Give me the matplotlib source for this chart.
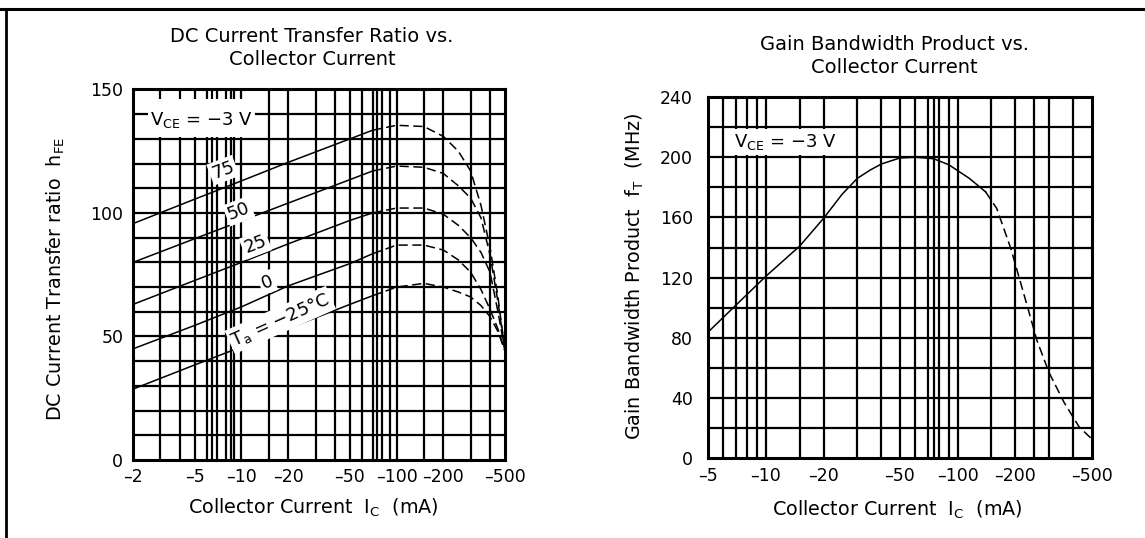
import matplotlib
matplotlib.use('Agg')
import matplotlib.pyplot as plt
from matplotlib.lines import Line2D
from matplotlib.patches import Rectangle
from matplotlib.ticker import NullLocator

# --- DC current transfer ratio (hFE) vs collector current, VCE = -3 V ---
ic_hfe = [2, 5, 10, 20, 50, 70, 100, 150, 200, 250, 300, 350, 400, 450, 500]
hfe_75 = [95.7, 105.6, 113, 120.5, 130, 133.5, 135.5, 135, 131, 125, 117, 103, 86, 66, 44]
hfe_50 = [80, 89.6, 96.8, 104, 113.5, 117, 119, 118.5, 116, 111, 106, 98, 83, 64, 44]
hfe_25 = [63, 72.7, 80, 87.5, 97, 100, 102, 102, 99.5, 95, 90, 84, 76, 60, 44]
hfe_0 = [45, 54.5, 62, 70.5, 79.5, 83.5, 87, 87, 85, 81, 76, 69, 61, 53, 44]
hfe_m25 = [28.7, 38.5, 45.8, 53.2, 63, 66.5, 70, 71.5, 70, 68, 66, 62.5, 58, 52, 44]
hfe_curves = [hfe_75, hfe_50, hfe_25, hfe_0, hfe_m25]
hfe_names = ['75', '50', '25', '0', r'T$_{\rm a}$ = −25°C']
hfe_solid_end = 70  # solid up to here, dashed beyond

# --- gain bandwidth product vs collector current ---
ic_ft = [5, 7, 10, 15, 20, 25, 30, 35, 40, 50, 60, 75, 90, 115, 140, 160, 190, 230, 260, 300,
         360, 430, 500]
ft = [84, 102, 121, 141, 159.5, 175.5, 186, 191.5, 195.5, 199.5, 200, 199, 195, 186, 177, 166,
      139, 102, 78, 57, 37, 21, 13]
ft_solid_end = 140

# axis ticks / labels
hfe_xticks = [2, 5, 10, 20, 50, 100, 200, 500]
ft_xticks = [5, 10, 20, 50, 100, 200, 500]
hfe_yticks = [0, 50, 100, 150]
ft_yticks = [0, 40, 80, 120, 160, 200, 240]

# chart grid as printed on the datasheet
hfe_gridx = [3, 4, 5, 6, 6.5, 7, 8, 8.5, 9, 10, 15, 20, 30, 40, 50, 60, 70, 75, 80, 90, 100,
             150, 200, 300, 400]
ft_gridx = [6, 7, 8, 9, 10, 15, 20, 30, 40, 50, 60, 70, 75, 80, 90, 100, 150, 200, 250, 300, 400]
hfe_gridy = list(range(10, 150, 10))
ft_gridy = list(range(20, 240, 20))

plt.rcParams['font.family'] = 'DejaVu Sans'

fig = plt.figure(figsize=(11.45, 5.38), dpi=100)
ax1 = fig.add_axes([0.1162, 0.1450, 0.3249, 0.6887])
ax2 = fig.add_axes([0.6186, 0.1481, 0.3347, 0.6716])


def style_axes(ax, xlim, ylim, xticks, yticks, gridx, gridy, xpad, ypad):
    ax.set_xscale('log')
    ax.set_xlim(*xlim)
    ax.set_ylim(*ylim)
    for v in gridx:
        ax.axvline(v, color='black', lw=1.6, zorder=1)
    for h in gridy:
        ax.axhline(h, color='black', lw=1.6, zorder=1)
    ax.set_xticks(xticks)
    ax.set_xticklabels(['–%d' % t for t in xticks])
    ax.xaxis.set_minor_locator(NullLocator())
    ax.set_yticks(yticks)
    ax.tick_params(length=0, labelsize=12.5)
    ax.tick_params(axis='x', pad=xpad)
    ax.tick_params(axis='y', pad=ypad)
    for s in ax.spines.values():
        s.set_linewidth(2.2)
        s.set_zorder(6)


def split_plot(ax, x, y, cut):
    xs = [a for a in x if a <= cut]
    ys = [b for a, b in zip(x, y) if a <= cut]
    xd = [a for a in x if a >= cut]
    yd = [b for a, b in zip(x, y) if a >= cut]
    ax.plot(xs, ys, color='black', lw=1.1, zorder=3)
    ax.plot(xd, yd, color='black', lw=1.1, ls=(0, (6, 3)), zorder=3)


# ---------------- left chart ----------------
style_axes(ax1, (2, 500), (0, 150), hfe_xticks, hfe_yticks, hfe_gridx, hfe_gridy, 6, 7)
for curve in hfe_curves:
    split_plot(ax1, ic_hfe, curve, hfe_solid_end)

label_pos = [(7.6, 117.3, 21), (9.6, 100.7, 21), (12.3, 87.3, 21), (14.6, 72, 21), (17.8, 56.7, 24)]
for name, (lx, ly, rot) in zip(hfe_names, label_pos):
    ax1.text(lx, ly, name, fontsize=13, rotation=rot, rotation_mode='anchor',
             ha='center', va='center', zorder=5,
             bbox=dict(facecolor='white', edgecolor='none', pad=1.5))

ax1.add_patch(Rectangle((2.0, 130.6), 12.7, 15.4, facecolor='white', edgecolor='none', zorder=2))
ax1.plot([2, 14.7], [140, 140], color='black', lw=1.6, zorder=2.5)
ax1.text(5.5, 137.8, r'V$_{\rm CE}$ = −3 V', fontsize=13, ha='center', va='center', zorder=5,
         bbox=dict(facecolor='white', edgecolor='none', pad=1.5))

ax1.set_xlabel(r'Collector Current  I$_{\rm C}$  (mA)', fontsize=13.8)
ax1.xaxis.set_label_coords(0.484, -0.100)
ax1.set_ylabel(r'DC Current Transfer ratio  h$_{\rm FE}$', fontsize=13.8)
ax1.yaxis.set_label_coords(-0.177, 0.49)
ax1.text(0.4806, 1.112, 'DC Current Transfer Ratio vs.\nCollector Current', transform=ax1.transAxes,
         ha='center', va='center', fontsize=14, linespacing=1.25)

# ---------------- right chart ----------------
style_axes(ax2, (5, 500), (0, 240), ft_xticks, ft_yticks, ft_gridx, ft_gridy, 6, 11)
split_plot(ax2, ic_ft, ft, ft_solid_end)

ax2.add_patch(Rectangle((6.3, 201.5), 19.2, 17, facecolor='white', edgecolor='none', zorder=2))
ax2.text(12.6, 210, r'V$_{\rm CE}$ = −3 V', fontsize=13, ha='center', va='center', zorder=5)

ax2.set_xlabel(r'Collector Current  I$_{\rm C}$  (mA)', fontsize=13.8)
ax2.xaxis.set_label_coords(0.493, -0.112)
ax2.set_ylabel(r'Gain Bandwidth Product  f$_{\rm T}$  (MHz)', fontsize=13.8)
ax2.yaxis.set_label_coords(-0.163, 0.505)
ax2.text(0.486, 1.114, 'Gain Bandwidth Product vs.\nCollector Current', transform=ax2.transAxes,
         ha='center', va='center', fontsize=14, linespacing=1.25)

# page frame (top and left edge)
fig.add_artist(Line2D([0, 1], [1 - 9 / 538] * 2, transform=fig.transFigure, color='black', lw=2.2))
fig.add_artist(Line2D([6 / 1145] * 2, [0, 1 - 9 / 538], transform=fig.transFigure, color='black', lw=2))

fig.savefig('out.png', dpi=100)
